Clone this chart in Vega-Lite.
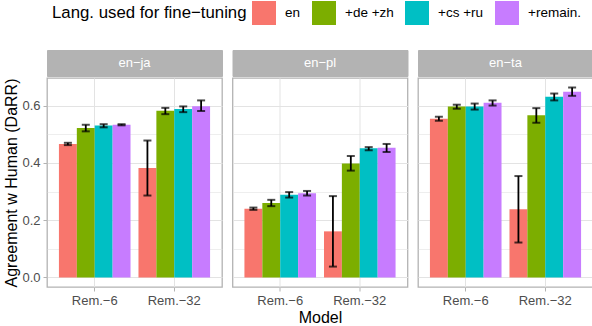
{
  "$schema": "https://vega.github.io/schema/vega-lite/v6.json",
  "padding": {"left": 3, "right": 2, "top": 1, "bottom": 1},
  "datasets": {
    "bars": [
      {"pair": "en−ja", "model": "Rem.−6", "lang": "en", "value": 0.466, "lo": 0.462, "hi": 0.470},
      {"pair": "en−ja", "model": "Rem.−6", "lang": "+de +zh", "value": 0.522, "lo": 0.510, "hi": 0.533},
      {"pair": "en−ja", "model": "Rem.−6", "lang": "+cs +ru", "value": 0.530, "lo": 0.524, "hi": 0.535},
      {"pair": "en−ja", "model": "Rem.−6", "lang": "+remain.", "value": 0.533, "lo": 0.531, "hi": 0.535},
      {"pair": "en−ja", "model": "Rem.−32", "lang": "en", "value": 0.382, "lo": 0.286, "hi": 0.478},
      {"pair": "en−ja", "model": "Rem.−32", "lang": "+de +zh", "value": 0.582, "lo": 0.570, "hi": 0.592},
      {"pair": "en−ja", "model": "Rem.−32", "lang": "+cs +ru", "value": 0.588, "lo": 0.577, "hi": 0.597},
      {"pair": "en−ja", "model": "Rem.−32", "lang": "+remain.", "value": 0.598, "lo": 0.581, "hi": 0.618},
      {"pair": "en−pl", "model": "Rem.−6", "lang": "en", "value": 0.240, "lo": 0.236, "hi": 0.244},
      {"pair": "en−pl", "model": "Rem.−6", "lang": "+de +zh", "value": 0.260, "lo": 0.249, "hi": 0.271},
      {"pair": "en−pl", "model": "Rem.−6", "lang": "+cs +ru", "value": 0.289, "lo": 0.279, "hi": 0.298},
      {"pair": "en−pl", "model": "Rem.−6", "lang": "+remain.", "value": 0.294, "lo": 0.286, "hi": 0.302},
      {"pair": "en−pl", "model": "Rem.−32", "lang": "en", "value": 0.161, "lo": 0.038, "hi": 0.284},
      {"pair": "en−pl", "model": "Rem.−32", "lang": "+de +zh", "value": 0.398, "lo": 0.373, "hi": 0.424},
      {"pair": "en−pl", "model": "Rem.−32", "lang": "+cs +ru", "value": 0.451, "lo": 0.444, "hi": 0.455},
      {"pair": "en−pl", "model": "Rem.−32", "lang": "+remain.", "value": 0.453, "lo": 0.438, "hi": 0.466},
      {"pair": "en−ta", "model": "Rem.−6", "lang": "en", "value": 0.554, "lo": 0.547, "hi": 0.561},
      {"pair": "en−ta", "model": "Rem.−6", "lang": "+de +zh", "value": 0.597, "lo": 0.589, "hi": 0.603},
      {"pair": "en−ta", "model": "Rem.−6", "lang": "+cs +ru", "value": 0.597, "lo": 0.586, "hi": 0.607},
      {"pair": "en−ta", "model": "Rem.−6", "lang": "+remain.", "value": 0.610, "lo": 0.600, "hi": 0.618},
      {"pair": "en−ta", "model": "Rem.−32", "lang": "en", "value": 0.238, "lo": 0.122, "hi": 0.354},
      {"pair": "en−ta", "model": "Rem.−32", "lang": "+de +zh", "value": 0.566, "lo": 0.540, "hi": 0.591},
      {"pair": "en−ta", "model": "Rem.−32", "lang": "+cs +ru", "value": 0.631, "lo": 0.618, "hi": 0.642},
      {"pair": "en−ta", "model": "Rem.−32", "lang": "+remain.", "value": 0.648, "lo": 0.634, "hi": 0.663}
    ],
    "pairs": [{"pair": "en−ja"}, {"pair": "en−pl"}, {"pair": "en−ta"}]
  },
  "hconcat": [
    {
      "spacing": 0,
      "vconcat": [
        {
          "width": 175, "height": 26,
          "view": {"fill": "#b3b3b3", "stroke": "#b3b3b3"},
          "data": {"name": "pairs"},
          "transform": [{"filter": "datum.pair === 'en−ja'"}],
          "mark": {"type": "text", "color": "white", "fontSize": 13},
          "encoding": {"text": {"field": "pair"}}
        },
        {
          "width": 175, "height": 209,
          "data": {"name": "bars"},
          "transform": [{"filter": "datum.pair === 'en−ja'"}],
          "encoding": {
            "x": {"field": "model", "type": "nominal", "sort": ["Rem.−6", "Rem.−32"],
              "scale": {"paddingInner": 0.1, "paddingOuter": 0.15},
              "axis": {"title": null, "labelAngle": 0, "bandPosition": 0.5}},
            "xOffset": {"field": "lang", "type": "nominal", "sort": ["en", "+de +zh", "+cs +ru", "+remain."],
              "scale": {"paddingInner": 0, "paddingOuter": 0}},
            "y": {"field": "value", "type": "quantitative",
              "scale": {"domain": [-0.0332, 0.6962], "nice": false, "zero": false},
              "axis": {"title": "Agreement w Human (DaRR)", "values": [0, 0.1, 0.2, 0.3, 0.4, 0.5, 0.6],
                "labelExpr": "round(datum.value*10)%2==1 ? '' : format(datum.value,'.1f')",
                "tickOpacity": {"condition": {"test": "round(datum.value*10)%2==1", "value": 0}, "value": 1},
                "gridWidth": {"condition": {"test": "round(datum.value*10)%2==1", "value": 0.6}, "value": 1}}}
          },
          "layer": [
            {
              "mark": {"type": "bar"},
              "encoding": {
                "y2": {"datum": 0},
                "color": {"field": "lang", "type": "nominal", "sort": ["en", "+de +zh", "+cs +ru", "+remain."],
                  "scale": {"domain": ["en", "+de +zh", "+cs +ru", "+remain."], "range": ["#F8766D", "#7CAE00", "#00BFC4", "#C77CFF"]},
                  "title": "Lang. used for fine−tuning",
                  "legend": {"orient": "none", "legendX": 5, "legendY": -49}}
              }
            },
            {"mark": {"type": "rule", "color": "black", "strokeWidth": 1.8},
              "encoding": {"y": {"field": "lo", "type": "quantitative", "title": "Agreement w Human (DaRR)"}, "y2": {"field": "hi"}}},
            {"mark": {"type": "tick", "color": "black", "size": 8, "thickness": 2},
              "encoding": {"y": {"field": "lo", "type": "quantitative", "title": "Agreement w Human (DaRR)"}}},
            {"mark": {"type": "tick", "color": "black", "size": 8, "thickness": 2},
              "encoding": {"y": {"field": "hi", "type": "quantitative", "title": "Agreement w Human (DaRR)"}}}
          ]
        }
      ]
    },
    {
      "spacing": 0,
      "vconcat": [
        {
          "width": 175, "height": 26,
          "view": {"fill": "#b3b3b3", "stroke": "#b3b3b3"},
          "data": {"name": "pairs"},
          "transform": [{"filter": "datum.pair === 'en−pl'"}],
          "mark": {"type": "text", "color": "white", "fontSize": 13},
          "encoding": {"text": {"field": "pair"}}
        },
        {
          "width": 175, "height": 209,
          "data": {"name": "bars"},
          "transform": [{"filter": "datum.pair === 'en−pl'"}],
          "encoding": {
            "x": {"field": "model", "type": "nominal", "sort": ["Rem.−6", "Rem.−32"],
              "scale": {"paddingInner": 0.1, "paddingOuter": 0.15},
              "axis": {"title": "Model", "labelAngle": 0, "bandPosition": 0.5}},
            "xOffset": {"field": "lang", "type": "nominal", "sort": ["en", "+de +zh", "+cs +ru", "+remain."],
              "scale": {"paddingInner": 0, "paddingOuter": 0}},
            "y": {"field": "value", "type": "quantitative",
              "scale": {"domain": [-0.0332, 0.6962], "nice": false, "zero": false},
              "axis": {"title": null, "labels": false, "ticks": false, "values": [0, 0.1, 0.2, 0.3, 0.4, 0.5, 0.6],
                "gridWidth": {"condition": {"test": "round(datum.value*10)%2==1", "value": 0.6}, "value": 1}}}
          },
          "layer": [
            {
              "mark": {"type": "bar"},
              "encoding": {
                "y2": {"datum": 0},
                "color": {"field": "lang", "type": "nominal", "sort": ["en", "+de +zh", "+cs +ru", "+remain."],
                  "scale": {"domain": ["en", "+de +zh", "+cs +ru", "+remain."], "range": ["#F8766D", "#7CAE00", "#00BFC4", "#C77CFF"]},
                  "title": "Lang. used for fine−tuning",
                  "legend": {"orient": "none", "legendX": 5, "legendY": -49}}
              }
            },
            {"mark": {"type": "rule", "color": "black", "strokeWidth": 1.8},
              "encoding": {"y": {"field": "lo", "type": "quantitative", "title": null}, "y2": {"field": "hi"}}},
            {"mark": {"type": "tick", "color": "black", "size": 8, "thickness": 2},
              "encoding": {"y": {"field": "lo", "type": "quantitative", "title": null}}},
            {"mark": {"type": "tick", "color": "black", "size": 8, "thickness": 2},
              "encoding": {"y": {"field": "hi", "type": "quantitative", "title": null}}}
          ]
        }
      ]
    },
    {
      "spacing": 0,
      "vconcat": [
        {
          "width": 175, "height": 26,
          "view": {"fill": "#b3b3b3", "stroke": "#b3b3b3"},
          "data": {"name": "pairs"},
          "transform": [{"filter": "datum.pair === 'en−ta'"}],
          "mark": {"type": "text", "color": "white", "fontSize": 13},
          "encoding": {"text": {"field": "pair"}}
        },
        {
          "width": 175, "height": 209,
          "data": {"name": "bars"},
          "transform": [{"filter": "datum.pair === 'en−ta'"}],
          "encoding": {
            "x": {"field": "model", "type": "nominal", "sort": ["Rem.−6", "Rem.−32"],
              "scale": {"paddingInner": 0.1, "paddingOuter": 0.15},
              "axis": {"title": null, "labelAngle": 0, "bandPosition": 0.5}},
            "xOffset": {"field": "lang", "type": "nominal", "sort": ["en", "+de +zh", "+cs +ru", "+remain."],
              "scale": {"paddingInner": 0, "paddingOuter": 0}},
            "y": {"field": "value", "type": "quantitative",
              "scale": {"domain": [-0.0332, 0.6962], "nice": false, "zero": false},
              "axis": {"title": null, "labels": false, "ticks": false, "values": [0, 0.1, 0.2, 0.3, 0.4, 0.5, 0.6],
                "gridWidth": {"condition": {"test": "round(datum.value*10)%2==1", "value": 0.6}, "value": 1}}}
          },
          "layer": [
            {
              "mark": {"type": "bar"},
              "encoding": {
                "y2": {"datum": 0},
                "color": {"field": "lang", "type": "nominal", "sort": ["en", "+de +zh", "+cs +ru", "+remain."],
                  "scale": {"domain": ["en", "+de +zh", "+cs +ru", "+remain."], "range": ["#F8766D", "#7CAE00", "#00BFC4", "#C77CFF"]},
                  "title": "Lang. used for fine−tuning",
                  "legend": {"orient": "none", "legendX": 5, "legendY": -49}}
              }
            },
            {"mark": {"type": "rule", "color": "black", "strokeWidth": 1.8},
              "encoding": {"y": {"field": "lo", "type": "quantitative", "title": null}, "y2": {"field": "hi"}}},
            {"mark": {"type": "tick", "color": "black", "size": 8, "thickness": 2},
              "encoding": {"y": {"field": "lo", "type": "quantitative", "title": null}}},
            {"mark": {"type": "tick", "color": "black", "size": 8, "thickness": 2},
              "encoding": {"y": {"field": "hi", "type": "quantitative", "title": null}}}
          ]
        }
      ]
    }
  ],
  "config": {
    "font": "Liberation Sans",
    "concat": {"spacing": 8.5},
    "view": {"stroke": "#b3b3b3", "strokeWidth": 1.3},
    "axis": {
      "domain": false,
      "grid": true,
      "gridColor": "#e3e3e3",
      "tickColor": "#b3b3b3",
      "tickSize": 4,
      "labelColor": "#4d4d4d",
      "labelFontSize": 13,
      "labelPadding": 3,
      "titleFontSize": 16,
      "titleFontWeight": "normal",
      "titleColor": "black",
      "titlePadding": 2
    },
    "legend": {
      "direction": "horizontal",
      "titleOrient": "left",
      "titleFontSize": 16.8,
      "titleFontWeight": "normal",
      "titleColor": "black",
      "titlePadding": 5,
      "titleLimit": 400,
      "labelFontSize": 13.5,
      "labelColor": "black",
      "labelLimit": 200,
      "symbolType": "square",
      "symbolSize": 576,
      "symbolStrokeWidth": 0,
      "symbolOpacity": 1,
      "labelOffset": 9,
      "columnPadding": 11
    }
  }
}
